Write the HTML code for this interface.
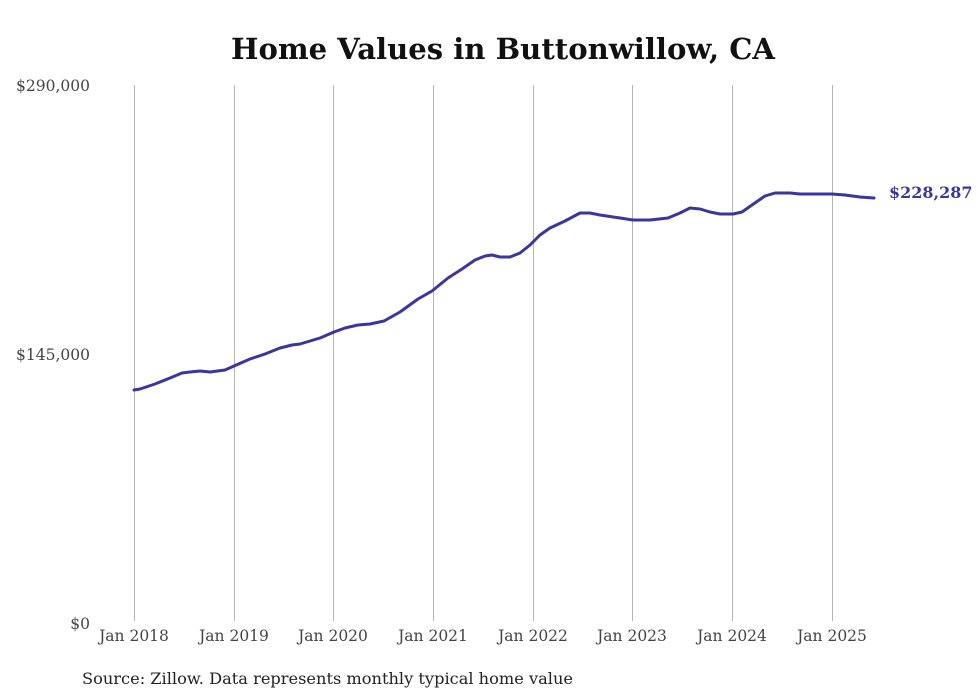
<!DOCTYPE html>
<html><head><meta charset="utf-8"><style>
html,body{margin:0;padding:0;background:#fff;}
svg{display:block;}
</style></head><body>
<svg width="980" height="699" viewBox="0 0 980 699" xmlns="http://www.w3.org/2000/svg" font-family="'DejaVu Serif','Liberation Serif',serif">
<rect width="980" height="699" fill="#fff"/>
<text x="503" y="59" text-anchor="middle" font-size="29" font-weight="bold" fill="#111" textLength="544" lengthAdjust="spacingAndGlyphs">Home Values in Buttonwillow, CA</text>
<g stroke="#b5b5b5" stroke-width="1">
<line x1="134.5" y1="85" x2="134.5" y2="621"/>
<line x1="234.5" y1="85" x2="234.5" y2="621"/>
<line x1="333.5" y1="85" x2="333.5" y2="621"/>
<line x1="433.5" y1="85" x2="433.5" y2="621"/>
<line x1="533.5" y1="85" x2="533.5" y2="621"/>
<line x1="632.5" y1="85" x2="632.5" y2="621"/>
<line x1="732.5" y1="85" x2="732.5" y2="621"/>
<line x1="832.5" y1="85" x2="832.5" y2="621"/>
</g>
<g font-size="15.5" fill="#444" text-anchor="end">
<text x="90" y="91">$290,000</text>
<text x="90" y="360">$145,000</text>
<text x="90" y="629">$0</text>
</g>
<g font-size="15.5" fill="#444" text-anchor="middle">
<text x="134" y="641">Jan 2018</text>
<text x="234" y="641">Jan 2019</text>
<text x="333" y="641">Jan 2020</text>
<text x="433" y="641">Jan 2021</text>
<text x="533" y="641">Jan 2022</text>
<text x="632" y="641">Jan 2023</text>
<text x="732" y="641">Jan 2024</text>
<text x="832" y="641">Jan 2025</text>
</g>
<polyline fill="none" stroke="#3a35a0" stroke-width="3" stroke-linejoin="round" stroke-linecap="round"
points="134,390 140,389 155,384 170,378 182,373 190,372 200,371 210,372 225,370 234,366 250,359 265,354 280,348 292,345 300,344 320,338 334,332 345,328 358,325 370,324 384,321 400,312 418,299 432,291 448,278 462,269 475,260 485,256 492,255 500,257 510,257 520,253 530,245 540,235 550,228 565,221 580,213 590,213 600,215 620,218 633,220 650,220 668,218 680,213 690,208 700,209 710,212 720,214 733,214 742,212 752,205 765,196 775,193 790,193 800,194 820,194 832,194 845,195 860,197 874,198"/>
<text x="889" y="198" font-size="16" font-weight="bold" fill="#3a35a0">$228,287</text>
<text x="82" y="684" font-size="16" fill="#222" textLength="491" lengthAdjust="spacingAndGlyphs">Source: Zillow. Data represents monthly typical home value</text>
</svg>
</body></html>
